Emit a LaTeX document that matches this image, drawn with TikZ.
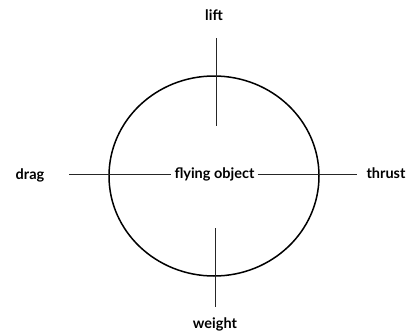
\documentclass[tikz,border=0pt]{standalone}
\usepackage{fontspec}
\setmainfont{Lato}
\begin{document}
\begin{tikzpicture}[x=1pt,y=-1pt,
  lbl/.style={font=\bfseries\fontsize{14.5}{16}\selectfont, inner sep=3pt},
  force/.style={line width=0.8pt, draw=black!85}]
\useasboundingbox (0,0) rectangle (410,335);
\draw[line width=1.5pt] (214,176) ellipse [x radius=105, y radius=100];
\node[lbl] (obj) at (214.5,174) {flying object};
\node[lbl] (lift) at (214,15) {lift};
\node[lbl] (drag) at (30,175) {drag};
\node[lbl] (thrust) at (386,173) {thrust};
\node[lbl] (weight) at (215,324) {weight};
\coordinate (lt) at (216,38);
\coordinate (lb) at (216,126);
\coordinate (wt) at (215,228);
\coordinate (wb) at (215,307);
\coordinate (dl) at (69,174);
\coordinate (tr) at (357,174);
\draw[force] (lt) -- (lb);
\draw[force] (wt) -- (wb);
\draw[force] (dl) -- (obj.west);
\draw[force] (obj.east) -- (tr);
\end{tikzpicture}
\end{document}
